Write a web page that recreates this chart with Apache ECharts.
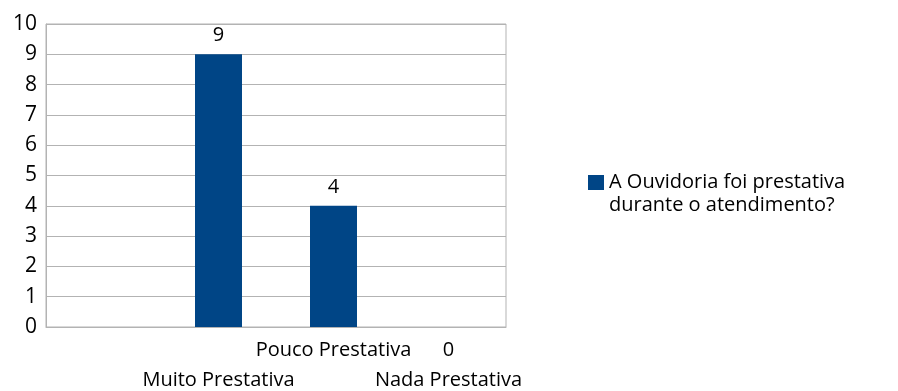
<!DOCTYPE html>
<html>
<head>
<meta charset="utf-8">
<script src="https://cdn.jsdelivr.net/npm/echarts@6/dist/echarts.min.js"></script>
<style>
  html, body { margin: 0; padding: 0; background: #fff; }
  #main { width: 898px; height: 391px; }
</style>
</head>
<body>
<div id="main"></div>
<script>
const categories = ['', 'Muito Prestativa', 'Pouco Prestativa', 'Nada Prestativa'];
const values = [null, 9, 4, 0];
const seriesName = 'A Ouvidoria foi prestativa\ndurante o atendimento?';
const yMin = 0, yMax = 10, yStep = 1;

const FONT = '"Open Sans", sans-serif';
const chart = echarts.init(document.getElementById('main'));

chart.setOption({
  animation: false,
  textStyle: { fontFamily: FONT },
  grid: {
    left: 46, top: 24, width: 460, height: 303,
    outerBoundsMode: 'none',
    show: true, borderColor: '#b3b3b3', borderWidth: 1
  },
  legend: {
    left: 583, top: 143,
    itemWidth: 16, itemHeight: 15,
    icon: 'rect',
    // blank first line keeps the square level with the first text line
    formatter: name => '\n' + name,
    textStyle: { fontFamily: FONT, fontSize: 20, color: '#000', lineHeight: 23 },
    data: [seriesName]
  },
  xAxis: {
    type: 'category',
    data: categories,
    axisLine: { lineStyle: { color: '#b3b3b3' } },
    axisTick: { show: false },
    axisLabel: {
      interval: 0, hideOverlap: false, color: '#000',
      fontFamily: FONT, fontSize: 20, lineHeight: 30, margin: 8,
      formatter: (v, i) => (i % 2 === 1 ? '\n' + v : v)
    }
  },
  yAxis: {
    type: 'value',
    min: yMin, max: yMax, interval: yStep,
    axisLine: { show: true, lineStyle: { color: '#b3b3b3' } },
    axisTick: { show: false },
    splitLine: { lineStyle: { color: '#b3b3b3' } },
    axisLabel: { color: '#000', fontFamily: FONT, fontSize: 21, margin: 9 }
  },
  series: [{
    name: seriesName,
    type: 'bar',
    barWidth: 47,
    itemStyle: { color: '#004586' },
    label: {
      show: true, position: 'top', distance: 9,
      color: '#000', fontFamily: FONT, fontSize: 20
    },
    data: values.map(v => v === 0
      ? { value: v, label: { position: 'bottom', distance: 13 } }
      : v)
  }]
});
</script>
</body>
</html>
